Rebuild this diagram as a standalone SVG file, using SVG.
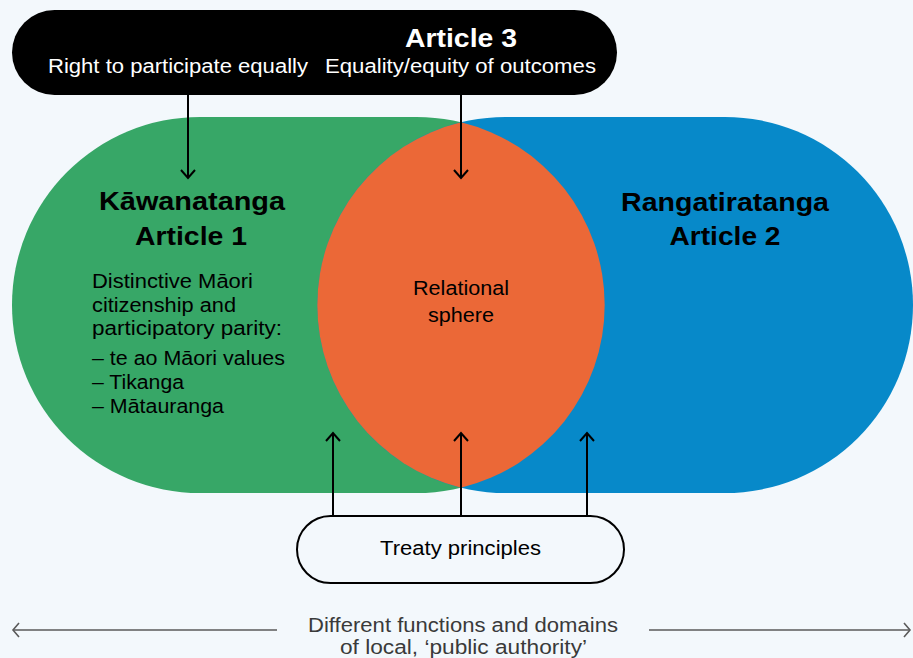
<svg xmlns="http://www.w3.org/2000/svg" width="913" height="658" viewBox="0 0 913 658">
<defs>
<style>
text{font-family:"Liberation Sans",Arial,sans-serif;}
.h{font-size:25px;font-weight:bold;fill:#000;text-anchor:middle;}
.b{font-size:20px;fill:#000;}
.w{font-size:20px;fill:#fff;}
.c{text-anchor:middle;}
.g{fill:#3a3a3a;}
.conn{stroke:#000;stroke-width:2;fill:none;}
.gray{stroke:#5a5a5a;stroke-width:1.6;fill:none;}
</style>
<marker id="ah" markerUnits="userSpaceOnUse" viewBox="-10 -10 20 20" markerWidth="20" markerHeight="20" refX="0" refY="0" orient="auto" overflow="visible">
<path d="M-8,-7 L0,0 L-8,7" fill="none" stroke="#000" stroke-width="2"/>
</marker>
<marker id="gh" markerUnits="userSpaceOnUse" viewBox="-10 -10 20 20" markerWidth="20" markerHeight="20" refX="0" refY="0" orient="auto" overflow="visible">
<path d="M-6,-7 L0,0 L-6,7" fill="none" stroke="#5a5a5a" stroke-width="1.6"/>
</marker>
</defs>
<rect width="913" height="658" fill="#F3F8FC"/>
<g id="kawanatanga">
<path d="M200,117 H416.5 A188,188 0 0 1 416.5,493 H200 A188,188 0 0 1 200,117 Z" fill="#37A767"/>
</g>
<g id="rangatiratanga">
<path d="M505.5,117 H725 A188,188 0 0 1 725,493 H505.5 A188,188 0 0 1 505.5,117 Z" fill="#0789C9"/>
</g>
<g id="relational">
<path d="M461,122.3 A188,188 0 0 1 461,487.7 A188,188 0 0 1 461,122.3 Z" fill="#EB6837"/>
<text class="b c" x="461" y="295" textLength="96" lengthAdjust="spacingAndGlyphs">Relational</text>
<text class="b c" x="461" y="322" textLength="66" lengthAdjust="spacingAndGlyphs">sphere</text>
</g>
<g id="kawanatanga-text">
<text class="h" x="192" y="210" textLength="186" lengthAdjust="spacingAndGlyphs">Kāwanatanga</text>
<text class="h" x="191" y="245" textLength="112" lengthAdjust="spacingAndGlyphs">Article 1</text>
<text class="b" x="92" y="288" textLength="161" lengthAdjust="spacingAndGlyphs">Distinctive Māori</text>
<text class="b" x="92" y="312" textLength="144" lengthAdjust="spacingAndGlyphs">citizenship and</text>
<text class="b" x="92" y="335" textLength="190" lengthAdjust="spacingAndGlyphs">participatory parity:</text>
<text class="b" x="92" y="365" textLength="193" lengthAdjust="spacingAndGlyphs">– te ao Māori values</text>
<text class="b" x="92" y="389" textLength="92" lengthAdjust="spacingAndGlyphs">– Tikanga</text>
<text class="b" x="92" y="413" textLength="132" lengthAdjust="spacingAndGlyphs">– Mātauranga</text>
</g>
<g id="rangatiratanga-text">
<text class="h" x="725" y="211" textLength="208" lengthAdjust="spacingAndGlyphs">Rangatiratanga</text>
<text class="h" x="725" y="245" textLength="111" lengthAdjust="spacingAndGlyphs">Article 2</text>
</g>
<g id="article3">
<rect x="12" y="10" width="605" height="85" rx="42.5" fill="#000"/>
<text class="h" x="461" y="47" style="fill:#fff" textLength="112" lengthAdjust="spacingAndGlyphs">Article 3</text>
<text class="w" x="48" y="73" textLength="260" lengthAdjust="spacingAndGlyphs">Right to participate equally</text>
<text class="w" x="325" y="73" textLength="271" lengthAdjust="spacingAndGlyphs">Equality/equity of outcomes</text>
</g>
<g id="treaty">
<rect x="297" y="516" width="327" height="67" rx="33.5" fill="#F3F8FC" stroke="#000" stroke-width="2"/>
<text class="b c" x="460.5" y="555" textLength="161" lengthAdjust="spacingAndGlyphs">Treaty principles</text>
</g>
<g id="connectors">
<line class="conn" x1="188" y1="95" x2="188" y2="178" marker-end="url(#ah)"/>
<line class="conn" x1="461" y1="95" x2="461" y2="178" marker-end="url(#ah)"/>
<line class="conn" x1="333" y1="516" x2="333" y2="433" marker-end="url(#ah)"/>
<line class="conn" x1="461" y1="516" x2="461" y2="433" marker-end="url(#ah)"/>
<line class="conn" x1="587" y1="516" x2="587" y2="433" marker-end="url(#ah)"/>
<line class="gray" x1="277" y1="630" x2="13" y2="630" marker-end="url(#gh)"/>
<line class="gray" x1="649" y1="630" x2="910" y2="630" marker-end="url(#gh)"/>
</g>
<g id="domains">
<text class="b c g" x="463" y="632" textLength="310" lengthAdjust="spacingAndGlyphs">Different functions and domains</text>
<text class="b c g" x="463.5" y="654" textLength="247" lengthAdjust="spacingAndGlyphs">of local, ‘public authority’</text>
</g>
</svg>
